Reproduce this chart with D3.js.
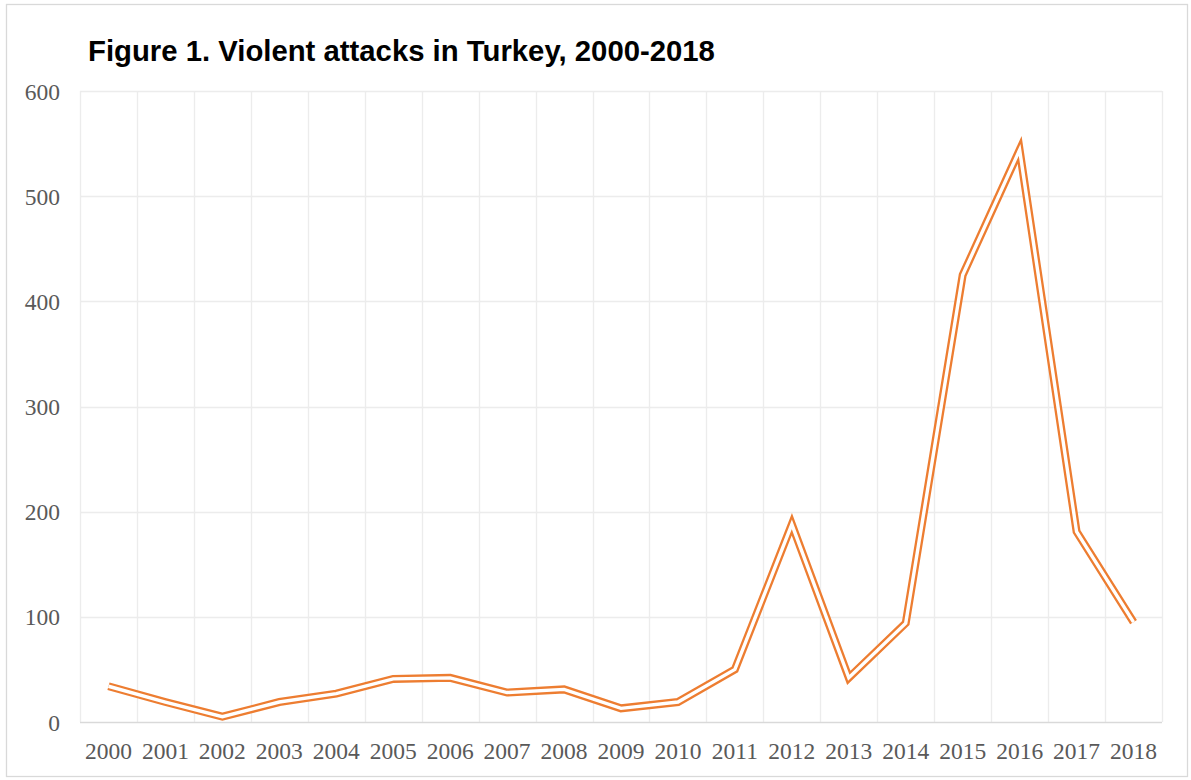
<!DOCTYPE html>
<html>
<head>
<meta charset="utf-8">
<script src="https://cdn.jsdelivr.net/npm/d3@7"></script>
<style>
  html, body { margin: 0; padding: 0; background: #fff; }
  svg { display: block; }
</style>
</head>
<body>
<svg id="chart" width="1191" height="780"></svg>
<script>
// Violent attacks per year, Turkey
const years = ["2000","2001","2002","2003","2004","2005","2006","2007","2008","2009",
               "2010","2011","2012","2013","2014","2015","2016","2017","2018"];
const attacks = [34, 19, 5, 19, 27, 41, 42, 28, 31, 13, 19, 50, 188, 42, 94, 425, 544, 181, 95];
const yTicks = [0, 100, 200, 300, 400, 500, 600];
const titleText = "Figure 1. Violent attacks in Turkey, 2000-2018";

const W = 1191, H = 780;
const plot = { left: 80, right: 1162, top: 91, bottom: 722 };

const svg = d3.select("#chart");

// chart frame
svg.append("rect")
  .attr("x", 6.5).attr("y", 4.5)
  .attr("width", 1181).attr("height", 772)
  .attr("fill", "#fff")
  .attr("stroke", "#d9d9d9").attr("stroke-width", 1.3);

svg.append("text")
  .attr("x", 88).attr("y", 60.5)
  .attr("font-family", "Liberation Sans, Arial, sans-serif")
  .attr("font-weight", "bold")
  .attr("font-size", 29.3)
  .attr("fill", "#000")
  .text(titleText);

const x = d3.scaleBand().domain(years).range([plot.left, plot.right]).paddingInner(0).paddingOuter(0);
const y = d3.scaleLinear().domain([0, 600]).range([plot.bottom, plot.top]);

// horizontal gridlines
svg.append("g")
  .selectAll("line")
  .data(yTicks.filter(d => d > 0))
  .join("line")
  .attr("x1", plot.left).attr("x2", plot.right)
  .attr("y1", d => Math.round(y(d)) + 0.5).attr("y2", d => Math.round(y(d)) + 0.5)
  .attr("stroke", "#ececec").attr("stroke-width", 1.3);

// vertical gridlines at category boundaries
const bounds = years.map(d => x(d)).concat([plot.right]);
svg.append("g")
  .selectAll("line")
  .data(bounds)
  .join("line")
  .attr("x1", d => Math.round(d) + 0.5).attr("x2", d => Math.round(d) + 0.5)
  .attr("y1", plot.top).attr("y2", plot.bottom)
  .attr("stroke", "#ececec").attr("stroke-width", 1.3);

// baseline
svg.append("line")
  .attr("x1", plot.left).attr("x2", plot.right)
  .attr("y1", Math.round(y(0)) + 0.5).attr("y2", Math.round(y(0)) + 0.5)
  .attr("stroke", "#d9d9d9").attr("stroke-width", 1.3);

// y axis labels
const yAxis = d3.axisLeft(y).tickValues(yTicks).tickSize(0).tickPadding(20);
const gy = svg.append("g").attr("transform", `translate(${plot.left},0)`).call(yAxis);
gy.select(".domain").remove();
gy.selectAll("text")
  .attr("font-family", "Liberation Serif, Times New Roman, serif")
  .attr("font-size", 23.5)
  .attr("fill", "#595959")
  .attr("dy", "0.34em");

// x axis labels
const xAxis = d3.axisBottom(x).tickSize(0).tickPadding(20);
const gx = svg.append("g").attr("transform", `translate(0,${plot.bottom})`).call(xAxis);
gx.select(".domain").remove();
gx.selectAll("text")
  .attr("font-family", "Liberation Serif, Times New Roman, serif")
  .attr("font-size", 23.5)
  .attr("fill", "#595959")
  .attr("dy", "0.71em");

// double-stroke line
const line = d3.line()
  .x((d, i) => x(years[i]) + x.bandwidth() / 2)
  .y(d => y(d));

svg.append("path")
  .datum(attacks)
  .attr("d", line)
  .attr("fill", "none")
  .attr("stroke", "#ED7D31")
  .attr("stroke-width", 8)
  .attr("stroke-linejoin", "miter")
  .attr("stroke-miterlimit", 10);

svg.append("path")
  .datum(attacks)
  .attr("d", line)
  .attr("fill", "none")
  .attr("stroke", "#fff")
  .attr("stroke-width", 3.4)
  .attr("stroke-linejoin", "miter")
  .attr("stroke-miterlimit", 10);
</script>
</body>
</html>
